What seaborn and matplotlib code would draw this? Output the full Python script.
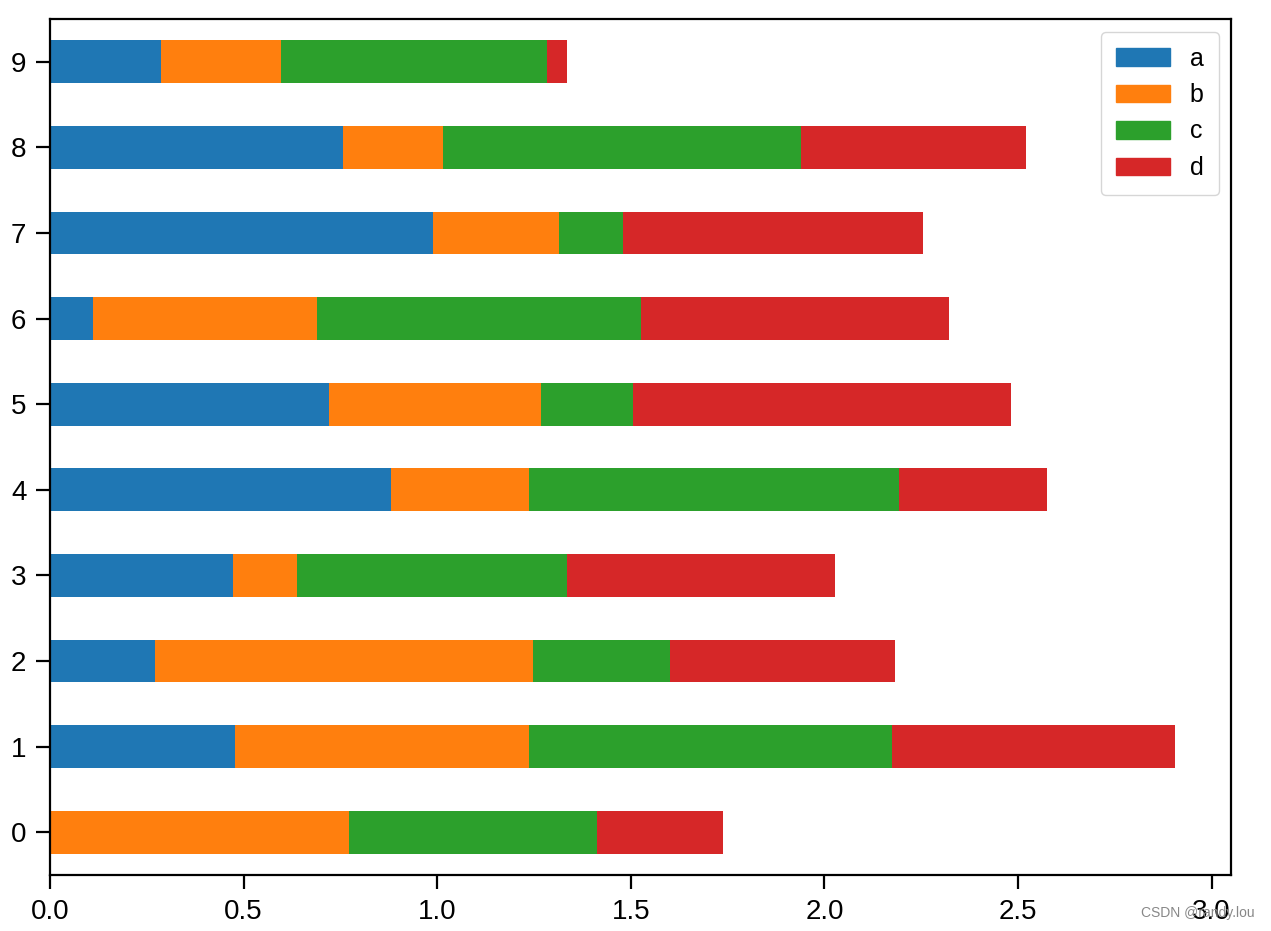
import pandas as pd
import numpy as np
import matplotlib.pyplot as plt
import seaborn as sns

plt.rcParams['font.family'] = ['Liberation Sans', 'DejaVu Sans']

# values, row index 0..9
rows = ["0", "1", "2", "3", "4", "5", "6", "7", "8", "9"]
a = [0.000, 0.478, 0.271, 0.472, 0.880, 0.720, 0.111, 0.989, 0.757, 0.287]
b = [0.772, 0.759, 0.976, 0.166, 0.357, 0.548, 0.578, 0.325, 0.258, 0.309]
c = [0.640, 0.937, 0.354, 0.697, 0.955, 0.237, 0.837, 0.165, 0.924, 0.687]
d = [0.326, 0.731, 0.581, 0.692, 0.382, 0.976, 0.795, 0.775, 0.581, 0.052]
series = ["a", "b", "c", "d"]
colors = ["#1f77b4", "#ff7f0e", "#2ca02c", "#d62728"]

df = pd.DataFrame({"row": rows, "a": a, "b": b, "c": c, "d": d})
# cumulative totals so the layers can be drawn on top of each other
cum = df[series].cumsum(axis=1)
cum["row"] = df["row"]

fig, ax = plt.subplots(figsize=(12.71, 9.31), dpi=100)
fig.subplots_adjust(left=50 / 1271, right=1231 / 1271, top=1 - 19 / 931, bottom=1 - 875 / 931)

for name, col in reversed(list(zip(series, colors))):
    sns.barplot(data=cum, x=name, y="row", order=rows, orient="h", color=col,
                saturation=1, width=0.5, linewidth=0, ax=ax)

# row 0 at the bottom, like pandas barh
ax.set_xlim(0, 3.05)
ax.set_ylim(-0.5, 9.5)
ax.set_xlabel("")
ax.set_ylabel("")
ax.tick_params(labelsize=20, width=1.6, length=10, pad=7)
for sp in ax.spines.values():
    sp.set_linewidth(1.6)

handles = [plt.Rectangle((0, 0), 1, 1, color=col) for col in colors]
ax.legend(handles, series, loc="upper right", fontsize=18,
          handlelength=2.16, labelspacing=0.5, borderpad=0.6, handletextpad=0.8)

fig.text(0.987, 0.012, "CSDN @randy.lou", ha="right", va="bottom",
         fontsize=10, color="#888888")

fig.savefig("out.png", dpi=100)
